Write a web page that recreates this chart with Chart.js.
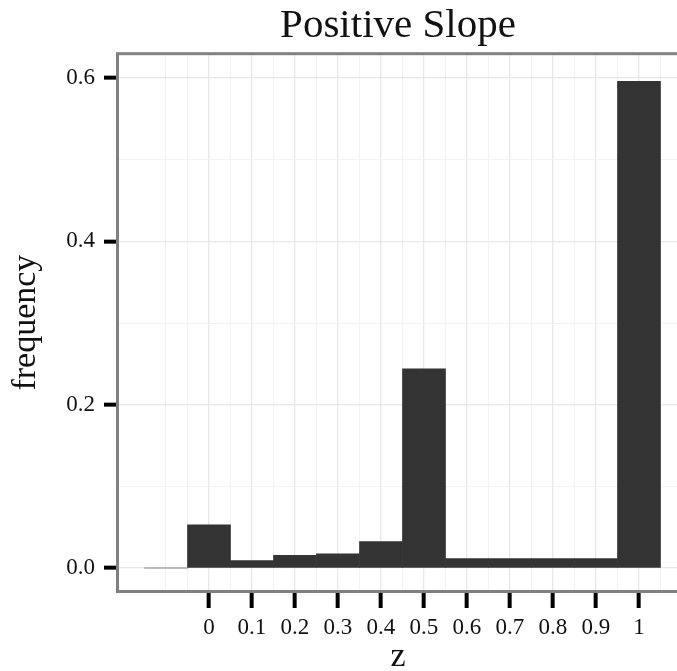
<!DOCTYPE html>
<html>
<head>
<meta charset="utf-8">
<script src="https://cdn.jsdelivr.net/npm/chart.js@4.4.1/dist/chart.umd.min.js"></script>
<style>
  html, body { margin: 0; padding: 0; background: #fff; }
  #wrap { width: 677px; height: 671px; }
</style>
</head>
<body>
<div id="wrap"><canvas id="histChart" width="677" height="671"></canvas></div>
<script>
const TITLE = 'Positive Slope';
const X_LABEL = 'z';
const Y_LABEL = 'frequency';

// bin centres and heights
const binCenters = [-0.1, 0, 0.1, 0.2, 0.3, 0.4, 0.5, 0.6, 0.7, 0.8, 0.9, 1];
const frequency = [0, 0.053, 0.009, 0.0155, 0.0175, 0.0325, 0.244, 0.0115, 0.0115, 0.0115, 0.0115, 0.596];

const xTickValues = [0, 0.1, 0.2, 0.3, 0.4, 0.5, 0.6, 0.7, 0.8, 0.9, 1];
const xTickLabels = ['0', '0.1', '0.2', '0.3', '0.4', '0.5', '0.6', '0.7', '0.8', '0.9', '1'];
const xMinorLines = [-0.1, -0.05, 0.05, 0.15, 0.25, 0.35, 0.45, 0.55, 0.65, 0.75, 0.85, 0.95, 1.05];
const yTickValues = [0, 0.2, 0.4, 0.6];
const yTickLabels = ['0.0', '0.2', '0.4', '0.6'];
const yMinorLines = [0.1, 0.3, 0.5];

const X_MIN = -0.2093, X_MAX = 1.0884;
const Y_MIN = -0.0269, Y_MAX = 0.628;

const FONT = "'Liberation Serif', 'Times New Roman', serif";

function near(a, b) { return Math.abs(a - b) < 1e-6; }
function xLabelFor(v) {
  const i = xTickValues.findIndex(t => near(t, v));
  return i === -1 ? '' : xTickLabels[i];
}
function yLabelFor(v) {
  const i = yTickValues.findIndex(t => near(t, v));
  return i === -1 ? '' : yTickLabels[i];
}
const tickVal = c => (c && c.tick ? c.tick.value : NaN);

// grey frame round the panel, open on the right where the picture is cut
const panelBorder = {
  id: 'panelBorder',
  afterDraw(chart) {
    const a = chart.chartArea;
    const ctx = chart.ctx;
    ctx.save();
    ctx.strokeStyle = '#808080';
    ctx.lineWidth = 3;
    ctx.strokeRect(a.left - 1.5, a.top - 1.5, a.right - a.left + 10, a.bottom - a.top + 3);
    ctx.restore();
  },
};

new Chart(document.getElementById('histChart').getContext('2d'), {
  type: 'bar',
  data: {
    datasets: [{
      label: Y_LABEL,
      data: binCenters.map((x, i) => ({ x, y: frequency[i] })),
      backgroundColor: ctx => (ctx.raw && ctx.raw.y === 0 ? '#a8a8a8' : '#333333'),
      borderWidth: 0,
      barPercentage: 1,
      categoryPercentage: 1,
      minBarLength: 1,
      xAxisID: 'x',
    }],
  },
  options: {
    responsive: false,
    animation: false,
    layout: { padding: 0 },
    plugins: {
      legend: { display: false },
      tooltip: { enabled: false },
      title: {
        display: true,
        text: TITLE,
        fullSize: false,
        color: '#111',
        font: { family: FONT, size: 41, weight: 'normal' },
        padding: { top: 2, bottom: 4 },
      },
    },
    scales: {
      // minor vertical grid only
      xMinor: {
        type: 'linear',
        position: 'bottom',
        offset: false,
        min: X_MIN,
        max: X_MAX,
        afterBuildTicks: s => { s.ticks = xMinorLines.map(value => ({ value })); },
        afterFit: s => { s.height = 0; },
        ticks: { display: false },
        grid: { color: '#f3f3f3', lineWidth: 1, drawTicks: false, offset: false },
        border: { display: false },
      },
      x: {
        type: 'linear',
        position: 'bottom',
        offset: false,
        min: X_MIN,
        max: X_MAX,
        afterBuildTicks: s => {
          s.ticks = [{ value: -0.1 }].concat(xTickValues.map(value => ({ value })));
        },
        afterFit: s => { s.height = 81; },
        ticks: {
          autoSkip: false,
          maxRotation: 0,
          padding: 6,
          color: '#111',
          font: { family: FONT, size: 23 },
          callback: v => xLabelFor(v),
        },
        grid: {
          offset: false,
          color: c => (xLabelFor(tickVal(c)) ? '#e8e8e8' : '#f3f3f3'),
          lineWidth: c => (xLabelFor(tickVal(c)) ? 1.3 : 1),
          tickColor: c => (xLabelFor(tickVal(c)) ? '#000' : 'rgba(0,0,0,0)'),
          tickWidth: 4,
          tickLength: 18,
        },
        border: { display: false },
        title: {
          display: true,
          text: X_LABEL,
          color: '#111',
          font: { family: FONT, size: 34, lineHeight: 0.8 },
          padding: { top: 0, bottom: 0 },
        },
      },
      y: {
        min: Y_MIN,
        max: Y_MAX,
        afterBuildTicks: s => {
          s.ticks = yTickValues.concat(yMinorLines).sort((a, b) => a - b).map(value => ({ value }));
        },
        afterFit: s => { s.width = 119; },
        ticks: {
          autoSkip: false,
          padding: 9,
          color: '#111',
          font: { family: FONT, size: 23 },
          callback: v => yLabelFor(v),
        },
        grid: {
          color: c => (yLabelFor(tickVal(c)) ? '#e8e8e8' : '#f3f3f3'),
          lineWidth: c => (yLabelFor(tickVal(c)) ? 1.3 : 1),
          tickColor: c => (yLabelFor(tickVal(c)) ? '#000' : 'rgba(0,0,0,0)'),
          tickWidth: 4,
          tickLength: 15,
        },
        border: { display: false },
        title: {
          display: true,
          text: Y_LABEL,
          color: '#111',
          font: { family: FONT, size: 34 },
          padding: { top: 6, bottom: 0 },
        },
      },
    },
  },
  plugins: [panelBorder],
});
</script>
</body>
</html>
